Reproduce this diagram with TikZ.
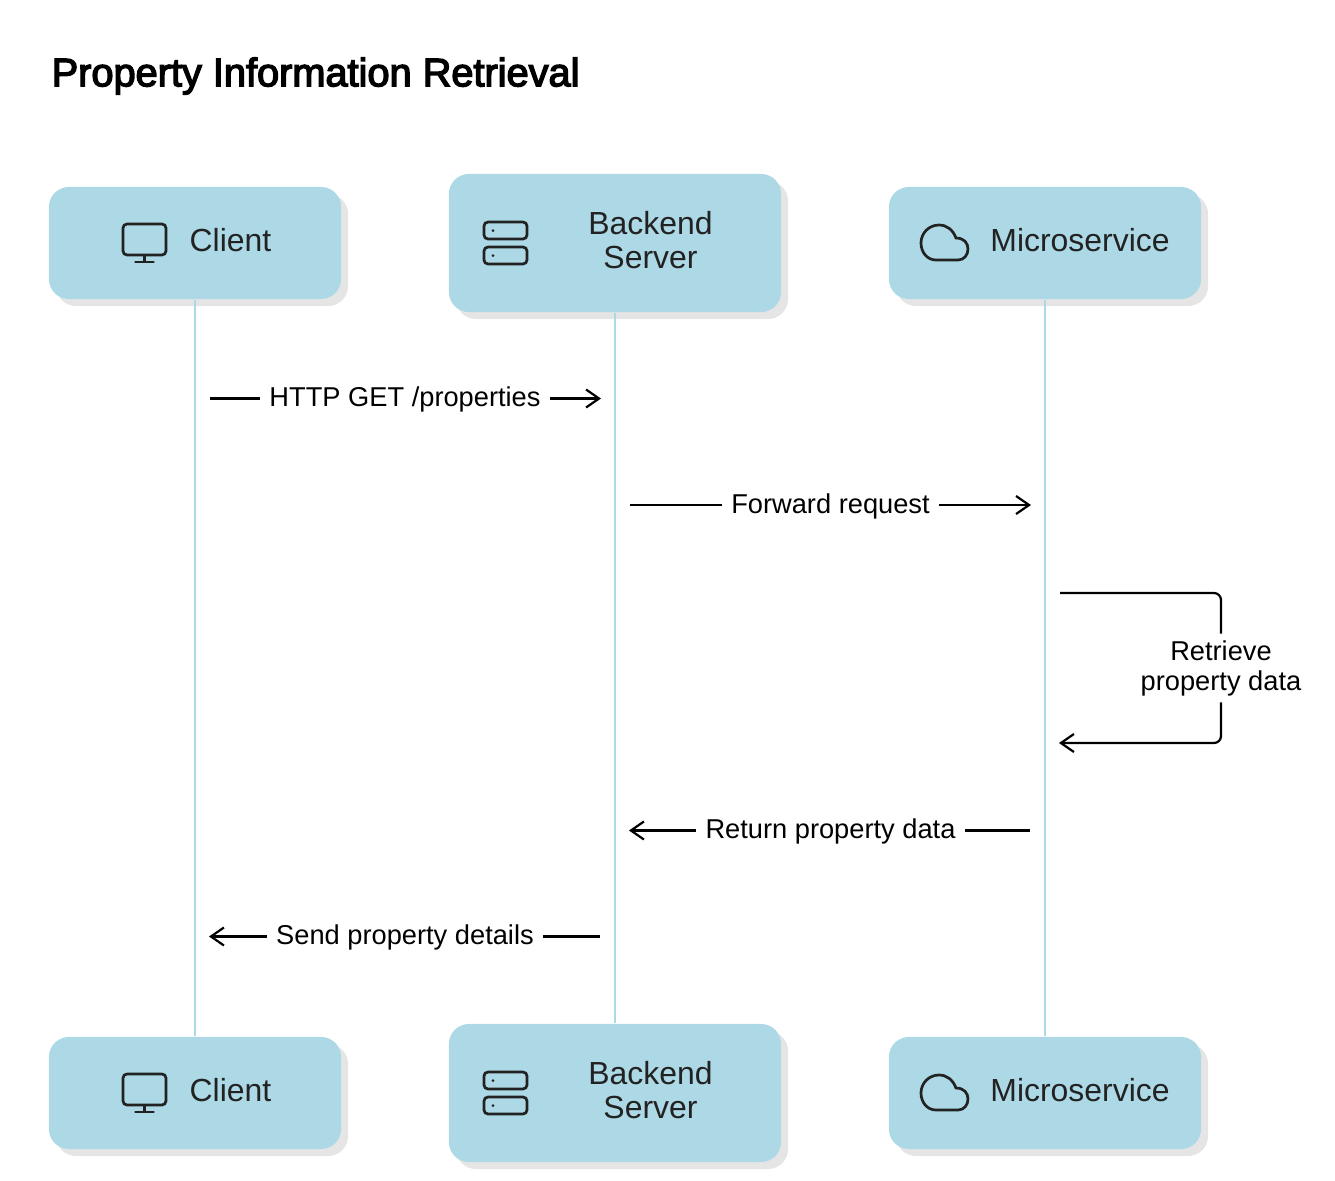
\documentclass[tikz,border=0pt]{standalone}
\usepackage{fontspec}
\setmainfont{Liberation Sans}
\newfontfamily\titlefont[FakeBold=3.5]{Liberation Sans}
\usetikzlibrary{arrows.meta,shadows}

\definecolor{boxblue}{HTML}{ADD8E6}
\definecolor{inkgray}{HTML}{222222}

\tikzset{
    actorbox/.style={fill=boxblue, rounded corners=0.2cm, inner sep=0pt, general shadow={fill=black!10, shadow xshift=0.07cm, shadow yshift=-0.07cm}},
    shortbox/.style={actorbox, minimum height=1.12cm},
    tallbox/.style={actorbox, minimum height=1.38cm},
    actorlabel/.style={text=inkgray, font=\fontsize{9.08}{9.7}\selectfont, align=center, inner sep=0pt},
    msglabel/.style={font=\fontsize{7.75}{8.55}\selectfont, align=center, inner sep=0.085cm},
    onelinemsg/.style={msglabel, text height=6.2pt},
    lifeline/.style={draw=boxblue, line width=0.025cm},
    msgline/.style={line width=0.022cm},
    monitoricon/.pic={
        \draw[inkgray, line width=0.027cm, rounded corners=0.04cm] (0, 0) rectangle (43, 31);
        \draw[inkgray, line width=0.027cm] (21.5, 31) -- (21.5, 38);
        \draw[inkgray, line width=0.027cm, line cap=round] (12.5, 38) -- (30.5, 38);
    },
    servericon/.pic={
        \draw[inkgray, line width=0.027cm, rounded corners=0.04cm] (0, 0) rectangle (43, 17);
        \draw[inkgray, line width=0.027cm, rounded corners=0.04cm] (0, 25) rectangle (43, 42);
        \fill[inkgray] (9, 8.5) circle (0.015cm);
        \fill[inkgray] (9, 33.5) circle (0.015cm);
    },
    cloudicon/.pic={
        \draw[inkgray, line width=0.027cm] (15, 35) .. controls (6, 35) and (0, 27) .. (0, 18) .. controls (0, 8) and (8, 0) .. (18, 0) .. controls (26, 0) and (32, 5) .. (35, 13) .. controls (43, 13) and (47, 18) .. (47, 24) .. controls (47, 30) and (43, 35) .. (37, 35) -- cycle;
    }
}

\begin{document}
\begin{tikzpicture}[x=0.01cm, y=-0.01cm, >={Straight Barb[length=0.13cm, width=0.18cm]}]
    \useasboundingbox (0, 0) rectangle (1335, 1181);
    \node[anchor=west, inner sep=0pt, font=\fontsize{11.3}{12}\titlefont] (title) at (51, 76) {Property Information Retrieval};

    % top row
    \node[shortbox, minimum width=2.92cm] (clienttop) at (195, 243) {};
    \node[tallbox, minimum width=3.32cm] (backendtop) at (615, 243) {};
    \node[shortbox, minimum width=3.12cm] (microtop) at (1045, 243) {};
    % bottom row
    \node[shortbox, minimum width=2.92cm] (clientbot) at (195, 1093) {};
    \node[tallbox, minimum width=3.32cm] (backendbot) at (615, 1093) {};
    \node[shortbox, minimum width=3.12cm] (microbot) at (1045, 1093) {};

    \draw[lifeline] (clienttop.south) -- (clientbot.north);
    \draw[lifeline] (backendtop.south) -- (backendbot.north);
    \draw[lifeline] (microtop.south) -- (microbot.north);

    \pic at (123, 224) {monitoricon};
    \pic at (484, 222) {servericon};
    \pic at (921, 225) {cloudicon};
    \pic at (123, 1074) {monitoricon};
    \pic at (484, 1072) {servericon};
    \pic at (921, 1075) {cloudicon};

    \node[actorlabel] (clientname) at (230.5, 240) {Client};
    \node[actorlabel] (backendname) at (650.5, 240) {Backend\\Server};
    \node[actorlabel] (microname) at (1080, 240) {Microservice};
    \node[actorlabel] (clientnamebot) at (230.5, 1090) {Client};
    \node[actorlabel] (backendnamebot) at (650.5, 1090) {Backend\\Server};
    \node[actorlabel] (micronamebot) at (1080, 1090) {Microservice};

    % request messages
    \coordinate (m1start) at (210, 398.5);
    \coordinate (m1end) at (601, 398.5);
    \node[onelinemsg] (m1label) at (405, 398.5) {HTTP GET /properties};
    \draw[msgline] (m1start) -- (m1label);
    \draw[msgline, ->] (m1label) -- (m1end);

    \coordinate (m2start) at (630, 505);
    \coordinate (m2end) at (1031, 505);
    \node[onelinemsg] (m2label) at (830.5, 505) {Forward request};
    \draw[msgline] (m2start) -- (m2label);
    \draw[msgline, ->] (m2label) -- (m2end);

    % self call
    \coordinate (m3start) at (1060, 593);
    \coordinate (m3end) at (1059, 743);
    \node[msglabel, inner ysep=0.06cm] (m3label) at (1221, 668) {Retrieve\\property data};
    \draw[msgline, rounded corners=0.07cm] (m3start) -| (m3label);
    \draw[msgline, rounded corners=0.07cm, ->] (m3label) |- (m3end);

    % replies
    \coordinate (m4start) at (1030, 830.5);
    \coordinate (m4end) at (629, 830.5);
    \node[onelinemsg] (m4label) at (830.5, 830.5) {Return property data};
    \draw[msgline] (m4start) -- (m4label);
    \draw[msgline, ->] (m4label) -- (m4end);

    \coordinate (m5start) at (600, 936.5);
    \coordinate (m5end) at (209, 936.5);
    \node[onelinemsg] (m5label) at (405, 936.5) {Send property details};
    \draw[msgline] (m5start) -- (m5label);
    \draw[msgline, ->] (m5label) -- (m5end);
\end{tikzpicture}
\end{document}
